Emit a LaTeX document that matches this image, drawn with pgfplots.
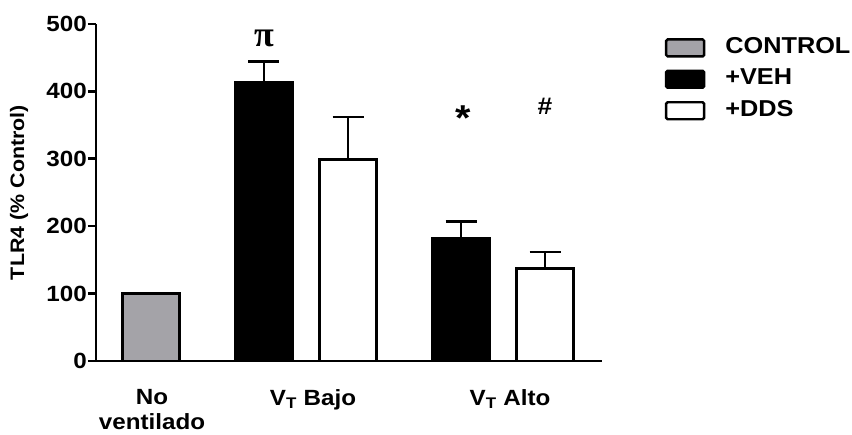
\documentclass[border=0pt]{standalone}
\usepackage{fontspec}
\setmainfont{Liberation Sans}[FakeStretch=1.1]
\newfontfamily\serifpi{Liberation Serif}
\usepackage{pgfplots}
\pgfplotsset{compat=1.18}
\definecolor{ctrl}{RGB}{164,163,168}
\begin{document}
\begin{tikzpicture}
\path[use as bounding box] (-96pt,-74pt) rectangle (756pt,361pt);
\begin{axis}[
  scale only axis,
  width=506pt, height=337pt,
  xmin=96, xmax=602,
  ymin=0, ymax=500,
  axis x line=bottom, axis y line=left,
  axis line style={-, line width=2.6pt},
  ytick={0,100,200,300,400,500},
  xtick={152,313,510},
  xticklabels={{No\\ventilado},{V\textsubscript{T} Bajo},{V\textsubscript{T} Alto}},
  xtick style={draw=none},
  ytick style={line width=2.6pt, black},
  tick align=outside,
  major tick length=8pt,
  /pgf/number format/assume math mode=true,
  ticklabel style={font=\bfseries\fontsize{22}{25}\selectfont},
  yticklabel style={inner sep=1pt},
  xticklabel style={align=center, yshift=-17pt},
  ylabel={TLR4 (\% Control)},
  ylabel style={font=\bfseries\fontsize{19.5}{21}\selectfont, at={(axis description cs:-0.152,0.5)}, anchor=center},
  clip=false,
  legend style={draw=none, fill=none, at={(axis description cs:1.124,0.966)}, anchor=north west,
    font=\bfseries\fontsize{23}{25}\selectfont, row sep=9.5pt, inner sep=0pt, /tikz/column sep=18pt},
  legend cell align=left,
]
\addplot[ybar, bar width=57, bar shift=0pt, fill=ctrl, draw=black, line width=2.6pt,
  legend image code/.code={\draw[fill=ctrl, draw=black, line width=2.4pt, rounded corners=1.5pt] (0pt,-10pt) rectangle (38pt,7pt);}]
  coordinates {(151,100)};
\addlegendentry{CONTROL}
\addplot[ybar, bar width=57, bar shift=0pt, fill=black, draw=black, line width=2.6pt,
  legend image code/.code={\draw[fill=black, draw=black, line width=2.4pt, rounded corners=1.5pt] (0pt,-10pt) rectangle (38pt,7pt);},
  error bars/.cd, y dir=plus, y explicit, error mark=|,
  error bar style={line width=2.6pt, black},
  error mark options={line width=2.6pt, mark size=15.5pt, black}]
  coordinates {(264,414) +- (0,30) (461,182) +- (0,25)};
\addlegendentry{+VEH}
\addplot[ybar, bar width=57, bar shift=0pt, fill=white, draw=black, line width=2.6pt,
  legend image code/.code={\draw[fill=white, draw=black, line width=2.4pt, rounded corners=1.5pt] (0pt,-10pt) rectangle (38pt,7pt);},
  error bars/.cd, y dir=plus, y explicit, error mark=|,
  error bar style={line width=2.6pt, black},
  error mark options={line width=2.6pt, mark size=15.5pt, black}]
  coordinates {(348,299) +- (0,63) (545,137) +- (0,25)};
\addlegendentry{+DDS}
\node[font=\serifpi\bfseries\fontsize{36}{38}\selectfont] at (axis cs:264,478) {π};
\node[font=\bfseries\fontsize{36}{38}\selectfont] at (axis cs:463,360) {*};
\node[font=\bfseries\fontsize{24}{26}\selectfont, anchor=base] at (axis cs:545,365) {\#};
\end{axis}
\end{tikzpicture}
\end{document}
